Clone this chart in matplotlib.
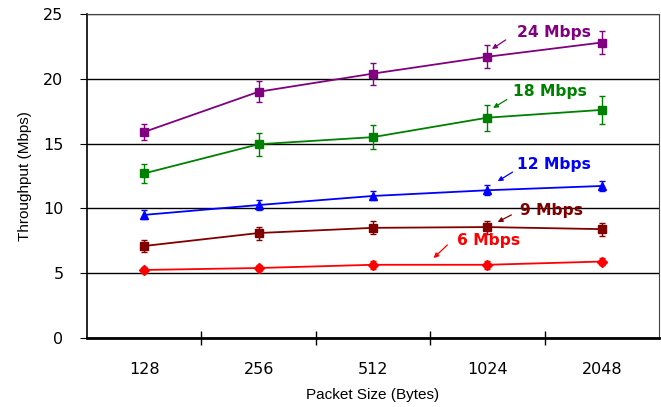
import matplotlib
matplotlib.use("Agg")
import matplotlib.pyplot as plt
import numpy as np

categories = ["128", "256", "512", "1024", "2048"]
series_names = ["24 Mbps", "18 Mbps", "12 Mbps", "9 Mbps", "6 Mbps"]
tp_24 = [15.9, 19.0, 20.4, 21.7, 22.8]
err_24 = [0.65, 0.8, 0.85, 0.9, 0.9]
tp_18 = [12.7, 14.95, 15.5, 17.0, 17.6]
err_18 = [0.75, 0.9, 0.9, 1.0, 1.05]
tp_12 = [9.5, 10.26, 10.96, 11.4, 11.73]
err_12 = [0.35, 0.35, 0.35, 0.4, 0.4]
tp_9 = [7.1, 8.1, 8.5, 8.56, 8.4]
err_9 = [0.5, 0.5, 0.5, 0.5, 0.5]
tp_6 = [5.25, 5.4, 5.65, 5.65, 5.9]
err_6 = [0.25, 0.25, 0.3, 0.3, 0.3]

colors = ["#800080", "#008000", "#0000FF", "#800000", "#FF0000"]
markers = ["s", "s", "^", "s", "D"]
msizes = [6, 6, 6, 6, 5]

fig = plt.figure(figsize=(6.61, 4.07), dpi=100)
ax = fig.add_axes([87/661, 1-338/407, 572/661, 324/407])

x = np.arange(len(categories))
data = [(tp_24, err_24), (tp_18, err_18), (tp_12, err_12), (tp_9, err_9), (tp_6, err_6)]
for (vals, errs), c, m, ms in zip(data, colors, markers, msizes):
    ax.errorbar(x, vals, yerr=errs, color=c, marker=m, markersize=ms, lw=1.3,
                capsize=2.5, elinewidth=1, capthick=1, zorder=3)

# annotations: (text pos, arrow tail, arrow head)
ann = [
    ((3.58, 23.6), (3.16, 23.0), (3.04, 22.3)),
    ((3.55, 19.0), (3.17, 18.4), (3.05, 17.75)),
    ((3.58, 13.35), (3.22, 12.8), (3.09, 12.1)),
    ((3.56, 9.8), (3.21, 9.5), (3.09, 8.95)),
    ((3.01, 7.55), (2.65, 7.18), (2.53, 6.17)),
]
for name, c, (tpos, tail, head) in zip(series_names, colors, ann):
    ax.text(tpos[0], tpos[1], name, color=c, fontsize=11.2, fontweight="bold",
            ha="center", va="center", family="DejaVu Sans")
    ax.annotate("", xy=head, xytext=tail,
                arrowprops=dict(arrowstyle="-|>", color=c, lw=0.9,
                                mutation_scale=7, shrinkA=0, shrinkB=0))

ax.set_xlim(-0.5, 4.5)
ax.set_ylim(0, 25)
ax.set_yticks([0, 5, 10, 15, 20, 25])
ax.yaxis.grid(True, color="black", lw=1)
ax.set_axisbelow(True)
ax.set_xticks(x)
ax.set_xticklabels(categories)
ax.tick_params(axis="x", length=0, pad=17, labelsize=11.5)
ax.set_xticks(np.arange(0.5, 4.5, 1), minor=True)
ax.tick_params(axis="x", which="minor", length=10, direction="inout", width=1)
ax.tick_params(axis="y", length=5, direction="out", labelsize=11.5, pad=12)

for s in ["top", "right"]:
    ax.spines[s].set_color("#444444")
ax.spines["left"].set_lw(1.2)
ax.spines["bottom"].set_lw(2)

ax.set_xlabel("Packet Size (Bytes)", family="Liberation Sans", fontsize=11, labelpad=8)
ax.set_ylabel("Throughput (Mbps)", family="Liberation Sans", fontsize=11, labelpad=8)

fig.savefig("out.png", dpi=100)
